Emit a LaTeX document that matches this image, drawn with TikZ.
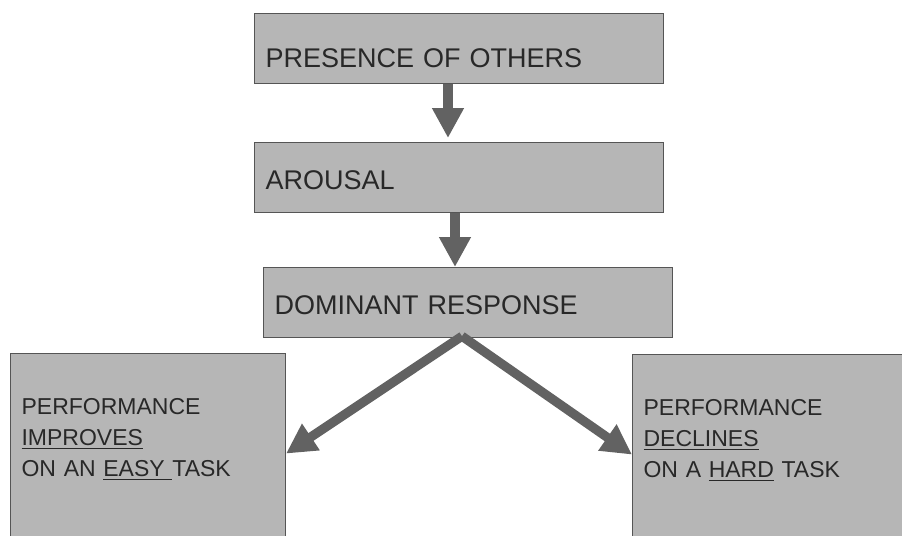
\documentclass[tikz,border=0pt]{standalone}
\usepackage{fontspec}
\setmainfont{Liberation Sans}
\usetikzlibrary{arrows.meta,positioning}
\definecolor{boxgray}{RGB}{182,182,182}
\definecolor{edgegray}{RGB}{85,85,85}
\definecolor{arrowgray}{RGB}{98,98,98}
\definecolor{inkgray}{RGB}{40,40,40}

\begin{document}
\begin{tikzpicture}[x=0.5pt,y=-0.5pt,
    stage/.style={draw=edgegray,line width=0.6pt,fill=boxgray,text=inkgray,anchor=north west,
      inner xsep=5.5pt,inner ysep=0pt,align=left,text width=193.4pt,
      text height=23.5pt,text depth=11.5pt,font=\fontsize{13.5}{16}\selectfont},
    outcome/.style={stage,text width=126.4pt,text height=30.5pt,text depth=65.5pt,
      font=\fontsize{11.5}{15.5}\selectfont},
    flow/.style={draw=arrowgray,line width=4.6pt,-{Triangle[width=15pt,length=15pt]}}]
    \useasboundingbox (0,0) rectangle (902,536);

    \node[stage,text height=27pt,text depth=8pt] (presence) at (254,13) {PRESENCE OF OTHERS};
    \node[stage] (arousal) at (254,142) {AROUSAL};
    \node[stage] (response) at (263,267) {DOMINANT RESPONSE};

    \node[outcome] (easy) at (10,353) {PERFORMANCE\\\underline{IMPROVES}\\ON AN \underline{EASY\ }TASK};
    \node[outcome,text width=140pt] (hard) at (632,354) {PERFORMANCE\\\underline{DECLINES}\\ON A \underline{HARD} TASK};

    \draw[flow] ([xshift=-5.5pt]presence.south) -- ([xshift=-5.5pt,yshift=2pt]arousal.north);
    \draw[flow] ([xshift=-2pt]arousal.south) -- ([xshift=-2pt]arousal.south |- response.north);

    \foreach \to/\side in {easy/east,hard/west}
        \draw[flow] ([xshift=-3pt,yshift=1pt]response.south) -- ([yshift=-2pt]\to.\side);
\end{tikzpicture}
\end{document}
